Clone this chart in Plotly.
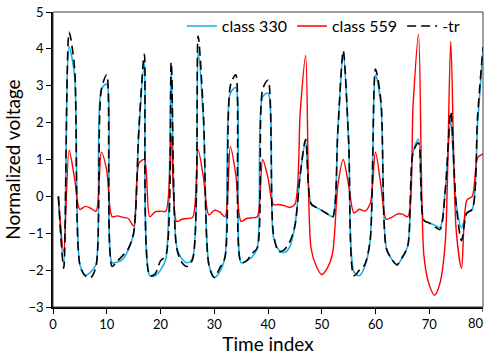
import plotly.graph_objects as go

time_index = list(range(1, 81))

class_330 = [
    0.0, -1.85, 4.05, 3.3, -1.85, -2.15, -2.05, -1.85, 2.9, 3.05,
    -1.8, -1.78, -1.7, -1.45, -1.0, 1.8, 3.65, -2.15, -2.15, -2.0,
    -1.7, 3.45, -1.35, -1.7, -1.8, -1.65, 3.92, 2.0, -1.85, -2.2,
    -2.05, -1.65, 2.8, 2.95, -1.8, -1.75, -1.65, -1.4, 2.7, 2.8,
    -1.1, -1.45, -1.52, -1.38, -0.8, 0.6, 1.5, -0.2, -0.3, -0.38,
    -0.47, -0.55, 1.8, 3.9, 1.5, -2.05, -2.15, -1.9, -1.2, 3.3,
    2.5, -1.4, -1.7, -1.87, -1.65, -1.35, 1.2, 1.55, -0.65, -0.72,
    -0.78, -0.85, 0.2, 2.05, -0.2, -0.85, -0.45, -0.35, 2.0, 4.0,
]

class_559 = [
    0.0, -1.5, 1.25, 0.5, -0.35, -0.27, -0.32, -0.4, 1.2, 0.7,
    -0.55, -0.53, -0.57, -0.6, -0.8, 0.9, 1.0, -0.55, -0.42, -0.4,
    -0.4, 1.65, -0.68, -0.62, -0.6, -0.57, 1.26, 0.5, -0.5, -0.38,
    -0.42, -0.55, 1.35, 0.6, -0.68, -0.6, -0.58, -0.55, 1.0, 0.5,
    -0.22, -0.22, -0.25, -0.3, -0.22, 2.3, 3.82, -1.4, -1.9, -2.12,
    -1.95, -1.55, 0.3, 1.0, 0.3, -0.45, -0.35, -0.4, -0.2, 1.2,
    0.3, -0.62, -0.57, -0.48, -0.48, -0.55, 2.5, 4.4, -1.6, -2.4,
    -2.68, -2.35, -1.2, 4.2, -0.9, -1.95, -0.1, 0.0, 1.05, 1.15,
]

tr = [
    0.0, -1.95, 4.45, 3.5, -1.85, -2.15, -2.2, -1.9, 2.9, 3.3,
    -1.9, -1.75, -1.6, -1.42, -1.0, 1.9, 3.85, -2.15, -2.1, -1.75,
    -1.6, 3.64, -1.4, -1.8, -1.9, -1.7, 4.35, 2.2, -1.85, -2.2,
    -1.95, -1.65, 3.0, 3.3, -1.8, -1.75, -1.55, -1.4, 2.9, 3.15,
    -1.0, -1.5, -1.45, -1.25, -0.8, 0.6, 1.55, -0.2, -0.3, -0.38,
    -0.47, -0.57, 1.8, 3.95, 1.5, -2.15, -2.0, -1.85, -1.2, 3.45,
    2.6, -1.4, -1.7, -1.85, -1.65, -1.35, 1.2, 1.45, -0.65, -0.72,
    -0.82, -0.9, 0.2, 2.3, -0.2, -1.2, -0.45, -0.35, 2.2, 4.05,
]

x_ticks = [0, 10, 20, 30, 40, 50, 60, 70, 80]

FONT = "Lato, 'Open Sans', sans-serif"

fig = go.Figure()
fig.add_trace(go.Scatter(x=time_index, y=class_330, mode="lines", name="class 330",
                         line=dict(color="#1AAFE6", width=1.6, shape="spline", smoothing=0.8)))
fig.add_trace(go.Scatter(x=time_index, y=class_559, mode="lines", name="class 559",
                         line=dict(color="#FF0000", width=1.4, shape="spline", smoothing=0.8)))
fig.add_trace(go.Scatter(x=time_index, y=tr, mode="lines", name="-tr",
                         line=dict(color="#000000", width=1.6, dash="9px,5px",
                                   shape="spline", smoothing=0.8)))

fig.update_layout(
    width=487, height=358,
    margin=dict(l=53, r=4, t=9, b=51),
    paper_bgcolor="white", plot_bgcolor="white",
    font=dict(family=FONT, color="#000000", size=13),
    showlegend=True,
    legend=dict(orientation="h", x=0.96, xanchor="right", y=1.01, yanchor="top",
                bgcolor="rgba(0,0,0,0)", font=dict(size=16, family=FONT),
                itemwidth=30, tracegroupgap=0),
    xaxis=dict(range=[0, 80], tickvals=x_ticks[:-1], showgrid=False, zeroline=False,
               showline=True, linecolor="black", linewidth=1.5,
               ticks="outside", ticklen=5, tickcolor="black",
               title=dict(text="Time index", font=dict(size=19, family=FONT), standoff=6),
               tickfont=dict(size=13)),
    yaxis=dict(range=[-3, 5], dtick=1, tick0=-3, showgrid=False, zeroline=False,
               showline=True, linecolor="black", linewidth=1.5,
               ticks="outside", ticklen=5, tickcolor="black",
               title=dict(text="Normalized voltage", font=dict(size=19, family=FONT), standoff=3),
               tickfont=dict(size=13)),
)
# last x tick label (80) kept fully inside the picture at the right edge
fig.add_annotation(x=1.0, y=0, xref="paper", yref="paper", text=str(x_ticks[-1]),
                   showarrow=False, yanchor="top", xanchor="right", yshift=-6, xshift=3,
                   font=dict(size=13, family=FONT))
fig.add_shape(type="line", xref="x", yref="paper", x0=x_ticks[-1], x1=x_ticks[-1], y0=0, y1=-0.017,
              line=dict(color="black", width=1))
fig.add_shape(type="rect", xref="paper", yref="paper", x0=0, y0=0, x1=1, y1=1,
              line=dict(color="#404040", width=1), layer="above")

fig.write_html("out.html")
